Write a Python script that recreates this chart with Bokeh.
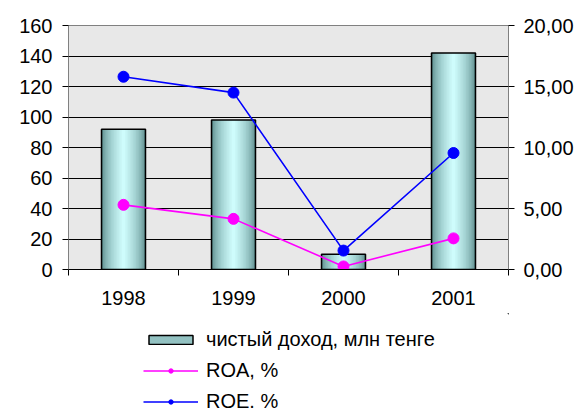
from bokeh.plotting import figure
from bokeh.layouts import column
from bokeh.models import Range1d, LinearAxis, FixedTicker, Legend, LegendItem
from bokeh.embed import file_html
from bokeh.resources import INLINE

# ---- data ----
categories = ["1998", "1999", "2000", "2001"]
net_income = [92, 98, 10, 142]          # чистый доход, млн тенге (left axis)
roa = [5.3, 4.15, 0.25, 2.55]           # ROA, % (right axis)
roe = [15.8, 14.5, 1.55, 9.55]          # ROE, % (right axis)
left_ticks = [0, 20, 40, 60, 80, 100, 120, 140, 160]
right_ticks = [0, 5, 10, 15, 20]
right_tick_labels = ["0,00", "5,00", "10,00", "15,00", "20,00"]
series_names = ["чистый доход, млн тенге", "ROA, %", "ROE. %"]

FONT = "Liberation Sans"
FS = "20px"
ROA_COLOR = "#ff00ff"
ROE_COLOR = "#0000ff"

xs = [i + 0.5 for i in range(len(categories))]
bounds = list(range(len(categories) + 1))

p = figure(width=580, height=313,
           x_range=Range1d(0, len(categories)),
           y_range=Range1d(left_ticks[0], left_ticks[-1]),
           output_backend="svg", toolbar_location=None,
           min_border_left=68, min_border_top=25, min_border_right=72,
           min_border_bottom=44)
p.extra_y_ranges = {"pct": Range1d(right_ticks[0], right_ticks[-1])}

p.background_fill_color = "#e8e8e8"
p.border_fill_color = "white"
p.outline_line_color = "#808080"
p.outline_line_width = 1

# grid
p.xgrid.visible = False
p.ygrid.ticker = FixedTicker(ticks=left_ticks[1:-1])
p.ygrid.grid_line_color = "black"
p.ygrid.grid_line_width = 1

# x axis
xa = p.xaxis[0]
xa.ticker = FixedTicker(ticks=xs, minor_ticks=bounds)
xa.major_label_overrides = {x: c for x, c in zip(xs, categories)}
xa.major_tick_in = 0
xa.major_tick_out = 0
xa.minor_tick_in = 0
xa.minor_tick_out = 6
xa.minor_tick_line_color = "black"
xa.axis_line_color = "black"
xa.major_label_standoff = 15
xa.major_label_text_font = FONT
xa.major_label_text_font_size = FS
xa.major_label_text_color = "black"

# left axis
ya = p.yaxis[0]
ya.ticker = FixedTicker(ticks=left_ticks)
ya.major_tick_in = 0
ya.major_tick_out = 6
ya.minor_tick_line_color = None
ya.axis_line_color = "#808080"
ya.major_tick_line_color = "black"
ya.major_label_standoff = 10
ya.major_label_text_font = FONT
ya.major_label_text_font_size = FS
ya.major_label_text_color = "black"

# right axis
ra = LinearAxis(y_range_name="pct", ticker=FixedTicker(ticks=right_ticks),
                major_label_overrides={t: l for t, l in zip(right_ticks, right_tick_labels)})
ra.major_tick_in = 0
ra.major_tick_out = 6
ra.minor_tick_line_color = None
ra.axis_line_color = "#808080"
ra.major_tick_line_color = "black"
ra.major_label_standoff = 9
ra.major_label_text_font = FONT
ra.major_label_text_font_size = FS
ra.major_label_text_color = "black"
p.add_layout(ra, "right")

# bars with a horizontal cylinder-like gradient (nested bars)
dark = (90, 138, 138)
light = (206, 252, 252)
n = 14
bar_width = 0.4
shades = []
for k in range(n):
    t = (k / (n - 1)) ** 0.6
    c = tuple(int(round(dark[j] + (light[j] - dark[j]) * t)) for j in range(3))
    shades.append("#%02x%02x%02x" % c)
    w = bar_width * (1 - k / n)
    p.vbar(x=xs, top=net_income, width=w, bottom=0,
           fill_color=shades[-1], line_color=None)
p.vbar(x=xs, top=net_income, width=bar_width, bottom=0,
       fill_color=None, line_color="black", line_width=1.5)

# lines
p.line(xs, roa, y_range_name="pct", line_color=ROA_COLOR, line_width=1.6)
p.scatter(xs, roa, y_range_name="pct", size=11, marker="circle",
          fill_color=ROA_COLOR, line_color=ROA_COLOR)
p.line(xs, roe, y_range_name="pct", line_color=ROE_COLOR, line_width=1.6)
p.scatter(xs, roe, y_range_name="pct", size=11, marker="circle",
          fill_color=ROE_COLOR, line_color=ROE_COLOR)

# ---- legend strip below the chart ----
# The key glyphs repeat the series with the same styles; the strip's ranges
# lie far from the data, so only the legend itself is seen.
q = figure(width=580, height=96, x_range=Range1d(-20, -19), y_range=Range1d(-20, -19),
           output_backend="svg", toolbar_location=None, min_border=0,
           x_axis_location=None, y_axis_location=None)
q.outline_line_color = None
q.grid.visible = False
q.background_fill_color = "white"
q.border_fill_color = "white"

k_bar = q.vbar(x=xs, top=net_income, bottom=0, width=bar_width,
               fill_color=shades[n // 3], line_color="black", line_width=1.5)
k_roa_l = q.line(xs, roa, line_color=ROA_COLOR, line_width=1.6)
k_roa_m = q.scatter(xs, roa, size=11, marker="circle",
                    fill_color=ROA_COLOR, line_color=ROA_COLOR)
k_roe_l = q.line(xs, roe, line_color=ROE_COLOR, line_width=1.6)
k_roe_m = q.scatter(xs, roe, size=11, marker="circle",
                    fill_color=ROE_COLOR, line_color=ROE_COLOR)

legend = Legend(items=[
    LegendItem(label=series_names[0], renderers=[k_bar]),
    LegendItem(label=series_names[1], renderers=[k_roa_l, k_roa_m]),
    LegendItem(label=series_names[2], renderers=[k_roe_l, k_roe_m]),
], location=(75, -8))
legend.border_line_color = None
legend.background_fill_alpha = 0
legend.padding = 0
legend.margin = 0
legend.spacing = 0
legend.glyph_width = 55
legend.glyph_height = 11
legend.label_height = 31
legend.label_standoff = 8
legend.label_text_font = FONT
legend.label_text_font_size = FS
legend.label_text_color = "black"
q.add_layout(legend, "center")

layout = column(p, q, spacing=0)
open("out.html", "w").write(file_html(layout, INLINE))
